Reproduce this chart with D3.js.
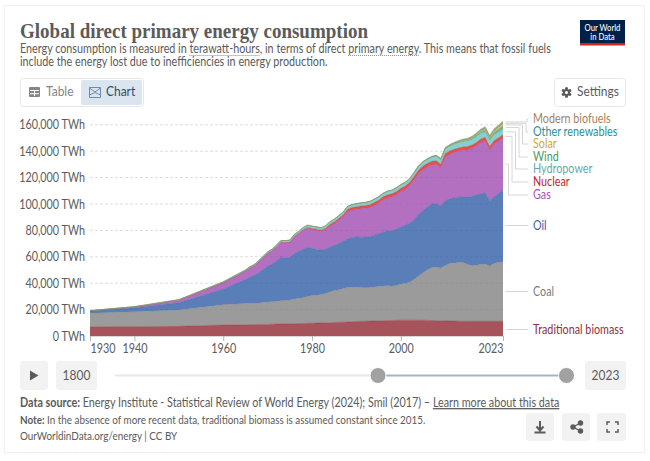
<!DOCTYPE html>
<html><head><meta charset="utf-8">
<script src="https://cdn.jsdelivr.net/npm/d3@7"></script>
<style>
html,body{margin:0;padding:0;background:#fff;width:650px;height:461px;overflow:hidden}
svg{display:block;font-family:Lato,sans-serif}
</style></head><body>
<svg id="c" width="650" height="461"></svg>
<script>
const years=[1930,1940,1950,1960,1965,1966,1967,1968,1969,1970,1971,1972,1973,1974,1975,1976,1977,1978,1979,1980,1981,1982,1983,1984,1985,1986,1987,1988,1989,1990,1991,1992,1993,1994,1995,1996,1997,1998,1999,2000,2001,2002,2003,2004,2005,2006,2007,2008,2009,2010,2011,2012,2013,2014,2015,2016,2017,2018,2019,2020,2021,2022,2023];
const traditionalBiomass=[7000,7100,7300,8300,8500,8550,8600,8700,8750,8800,8900,9000,9050,9100,9200,9300,9400,9500,9600,9700,9800,9900,10000,10100,10200,10350,10500,10650,10800,11000,11100,11200,11300,11400,11500,11600,11700,11800,11900,12000,12000,12000,12000,11950,11900,11800,11700,11600,11500,11450,11400,11300,11200,11150,11111,11111,11111,11111,11111,11111,11111,11111,11111];
const coal=[10200,11300,12400,15400,16140,16400,16100,16300,16700,17000,17000,17200,17700,17700,18000,18700,19200,19500,20400,20900,21100,21600,22200,23200,24200,24700,25500,26000,26200,26000,25600,25400,25500,25700,26000,26300,26400,26000,26300,27400,27700,28900,31000,33550,36100,38400,40100,40400,40000,42050,43600,43900,44600,44550,43089,42189,42489,43189,43489,41889,43889,44689,45189];
const oil=[1700,3000,5400,11800,18100,19600,21100,23000,24900,27000,28400,30500,33000,32500,32300,34300,35400,36500,37200,35800,34600,33600,33300,34000,33900,35000,35600,36900,37500,38000,37900,38400,38300,39100,39800,40700,41700,41900,42700,43000,44400,44600,45000,46500,47000,47500,48200,48200,47000,49000,48800,49500,49400,49800,51200,52400,53200,53400,53700,49300,50500,52200,54300];
const gas=[200,600,2050,4800,6300,6800,7300,8000,8800,9600,10200,10700,11100,11300,11300,12700,13300,14400,14400,14300,14600,14000,14800,15800,16600,17400,18400,20600,20900,20900,21800,21700,22100,22600,23200,24400,24800,25600,26100,26900,26900,28300,30500,31000,31000,30300,29600,29800,29000,33000,33700,34300,34800,35200,35600,36300,37200,38800,39400,38600,39700,39500,39200];
const nuclear=[0,0,0,0,25,34,40,52,62,79,110,150,200,250,350,400,500,600,650,710,850,950,1100,1300,1500,1600,1730,1890,1950,2000,2100,2130,2200,2260,2330,2400,2390,2430,2520,2580,2650,2660,2600,2740,2770,2800,2750,2730,2690,2770,2650,2470,2480,2530,2570,2610,2640,2700,2790,2690,2800,2680,2740];
const hydropower=[130,190,330,690,920,980,1000,1040,1100,1150,1200,1250,1290,1400,1430,1440,1470,1570,1660,1720,1760,1800,1880,1950,1980,2000,2040,2100,2100,2170,2230,2240,2370,2400,2510,2530,2590,2610,2640,2660,2600,2630,2630,2810,2920,3030,3090,3250,3240,3430,3500,3660,3780,3880,3880,4000,4060,4170,4220,4350,4270,4310,4240];
const wind=[0,0,0,0,0,0,0,0,0,0,0,0,0,0,0,0,0,0,0,0,0,0,0,0,1,1,1,2,3,4,4,5,6,7,8,9,12,16,21,31,38,52,63,85,104,133,170,221,277,346,437,534,646,712,831,962,1141,1270,1420,1590,1850,2110,2300];
const solar=[0,0,0,0,0,0,0,0,0,0,0,0,0,0,0,0,0,0,0,0,0,0,0,0,0,0,0,0,0,0,0,1,1,1,1,1,1,1,1,1,2,2,3,3,4,6,8,12,20,32,63,100,139,198,256,329,446,577,703,846,1040,1320,1640];
const otherRenewables=[0,0,10,20,30,30,35,35,40,40,42,44,46,48,50,52,54,56,58,60,70,80,90,100,120,128,136,144,152,160,165,170,176,182,190,196,202,208,214,220,230,240,250,265,280,298,316,334,352,370,390,412,434,456,480,515,550,585,620,650,700,745,790];
const modernBiofuels=[0,0,0,0,0,0,0,0,0,0,0,0,0,0,1,2,5,10,20,40,45,50,55,65,70,72,75,78,82,90,92,95,98,102,110,110,110,110,110,110,120,140,165,185,220,280,370,480,520,600,610,620,680,760,830,860,900,1020,1140,1040,1130,1200,1250];
const seriesNames=["Traditional biomass","Coal","Oil","Gas","Nuclear","Hydropower","Wind","Solar","Other renewables","Modern biofuels"];
const seriesValues=[traditionalBiomass,coal,oil,gas,nuclear,hydropower,wind,solar,otherRenewables,modernBiofuels];
const fillColors=["#912833","#818281","#315fa6","#a04bb0","#d32929","#6ac3c3","#4f9f6a","#d8b32e","#2f9c9c","#a5835c"];
const labelColors=["#8f2f3f","#7c7c7c","#3f62a8","#a652ba","#c8242e","#65a9b0","#4c9a63","#cfa92c","#2b8f96","#a5835c"];
const legendOrder=["Modern biofuels","Other renewables","Solar","Wind","Hydropower","Nuclear","Gas","Oil","Coal","Traditional biomass"];
const yTicks=[0,20000,40000,60000,80000,100000,120000,140000,160000];
const xTicks=[1930,1940,1960,1980,2000,2023];

// layout constants (not data)
const legendY=[119,132,144,157,169,182,195,226,292,330];
const legendElbow=[527,526,522.5,519,515.5,512,508.5,null,null,null];
const squeeze=0.855;

const svg=d3.select("#c");
const T="#5b5b5b";
const x=d3.scaleLinear().domain([1930,2023]).range([90,503]);
const y=d3.scaleLinear().domain([0,160000]).range([336,124.8]);

// frame
svg.append("rect").attr("x",4.5).attr("y",5.5).attr("width",640).attr("height",447).attr("fill","#fff").attr("stroke","#f0f0f0");

// header
svg.append("text").attr("class","noSq").attr("x",20).attr("y",38).attr("font-family","'Liberation Serif',serif").attr("font-weight",700).attr("font-size",22).attr("fill",T).attr("textLength",348).attr("lengthAdjust","spacingAndGlyphs").text("Global direct primary energy consumption");
const sub1=svg.append("text").attr("x",20).attr("y",53).attr("font-size",12.6).attr("fill",T)
  .text("Energy consumption is measured in terawatt-hours, in terms of direct primary energy. This means that fossil fuels");
svg.append("text").attr("x",20).attr("y",66).attr("font-size",12.6).attr("fill",T).text("include the energy lost due to inefficiencies in energy production.");
// dotted underlines measured from the text itself
["terawatt-hours","primary energy"].forEach(term=>{
  const n=sub1.node(), s=n.textContent.indexOf(term);
  const x0=20+n.getSubStringLength(0,s)*squeeze, w=n.getSubStringLength(s,term.length)*squeeze;
  svg.append("line").attr("x1",x0).attr("x2",x0+w).attr("y1",55.5).attr("y2",55.5).attr("stroke","#8a8a8a").attr("stroke-dasharray","1,1");
});

// logo
svg.append("rect").attr("x",580).attr("y",20).attr("width",45).attr("height",25).attr("fill","#002147");
svg.append("rect").attr("x",580).attr("y",43).attr("width",45).attr("height",2.5).attr("fill","#ce261e");
svg.append("text").attr("x",602.5).attr("y",31).attr("text-anchor","middle").attr("font-size",9).attr("font-weight",500).attr("fill","#fff").text("Our World");
svg.append("text").attr("x",602.5).attr("y",40.5).attr("text-anchor","middle").attr("font-size",9).attr("font-weight",500).attr("fill","#fff").text("in Data");

// tabs
svg.append("rect").attr("x",20.5).attr("y",78.5).attr("width",123).attr("height",28).attr("rx",3).attr("fill","#fff").attr("stroke","#e7e7e7");
svg.append("rect").attr("x",81).attr("y",80).attr("width",61).attr("height",25).attr("rx",2).attr("fill","#dbe5f0");
const ti=svg.append("g").attr("transform","translate(29,87)");
ti.append("rect").attr("width",11).attr("height",10).attr("rx",1).attr("fill","#858585");
ti.append("path").attr("d","M1 3.5H10M1 6.7H10M5.5 3V9").attr("stroke","#fff").attr("stroke-width",1);
svg.append("text").attr("x",46).attr("y",96.5).attr("font-size",14).attr("fill","#858585").text("Table");
svg.append("path").attr("d","M89.5 87.5H100.5V97.5H89.5ZM89.5 88L95 92L100.5 88M89.5 95L95 92.5L100.5 95").attr("fill","none").attr("stroke","#6d8bab").attr("stroke-width",1);
svg.append("text").attr("x",106).attr("y",96.5).attr("font-size",14).attr("fill","#2d4a6b").text("Chart");
svg.append("rect").attr("x",554.5).attr("y",78.5).attr("width",71).attr("height",28).attr("rx",3).attr("fill","#fff").attr("stroke","#e7e7e7");
const gear=svg.append("g").attr("transform","translate(566.5,92.5)");
gear.selectAll("line").data(d3.range(6)).join("line").attr("x1",0).attr("y1",-5).attr("x2",0).attr("y2",5).attr("stroke",T).attr("stroke-width",2.4).attr("transform",d=>`rotate(${d*60})`);
gear.append("circle").attr("r",3.6).attr("fill",T);
gear.append("circle").attr("r",1.5).attr("fill","#fff");
svg.append("text").attr("x",577).attr("y",96.5).attr("font-size",14).attr("fill",T).text("Settings");

// grid
const grid=svg.append("g");
grid.selectAll("line").data(yTicks.filter(d=>d>0)).join("line").attr("x1",x.range()[0]).attr("x2",x.range()[1]).attr("y1",d=>y(d)).attr("y2",d=>y(d)).attr("stroke","#dddddd").attr("stroke-dasharray","3,2");

// stacked areas
const rows=years.map((yr,i)=>{const r={year:yr};seriesNames.forEach((n,k)=>r[n]=seriesValues[k][i]);return r;});
const stacked=d3.stack().keys(seriesNames)(rows);
const area=d3.area().x(d=>x(d.data.year)).y0(d=>y(d[0])).y1(d=>y(d[1]));
const line=d3.line().x(d=>x(d.data.year)).y(d=>y(d[1]));
svg.append("g").selectAll("path").data(stacked).join("path").attr("d",area).attr("fill",(d,i)=>fillColors[i]).attr("fill-opacity",0.8);
svg.append("g").selectAll("path").data(stacked).join("path").attr("d",line).attr("fill","none").attr("stroke",(d,i)=>fillColors[i]).attr("stroke-width",0.5).attr("stroke-opacity",0.7);

// axes
const yAxis=svg.append("g").attr("transform",`translate(${x.range()[0]-5},0)`).call(d3.axisLeft(y).tickValues(yTicks).tickSize(0).tickPadding(0).tickFormat(d=>d3.format(",")(d)+" TWh"));
yAxis.select(".domain").remove();
yAxis.selectAll("text").attr("font-family","Lato,sans-serif").attr("font-size",12.6).attr("fill",T);
const xAxis=svg.append("g").attr("transform",`translate(0,${y(0)})`).call(d3.axisBottom(x).tickValues(xTicks).tickSize(5).tickPadding(3).tickFormat(d3.format("d")));
xAxis.select(".domain").attr("stroke","#d8d8d8").attr("d",`M${x.range()[0]},0.5H${x.range()[1]}`);
xAxis.selectAll("line").attr("stroke","#b5b5b5");
xAxis.selectAll("text").attr("font-family","Lato,sans-serif").attr("font-size",12.6).attr("fill",T)
  .attr("text-anchor",d=>d===xTicks[0]?"start":d===xTicks[xTicks.length-1]?"end":"middle");

// legend with connectors
const last=years.length-1;
legendOrder.forEach((name,i)=>{
  const k=seriesNames.indexOf(name);
  const pt=stacked[k][last];
  const sy=y((pt[0]+pt[1])/2), ly=legendY[i], el=legendElbow[i];
  const d=el===null?`M505.5,${ly-0.5}H528`:`M505.5,${sy}H${el}V${ly}H528`;
  svg.append("path").attr("d",d).attr("fill","none").attr("stroke","#d6d6d6").attr("stroke-width",1);
  svg.append("text").attr("x",533).attr("y",ly+4).attr("font-size",12.6).attr("fill",labelColors[k]).text(name);
});

// timeline
const btn=(bx,by,w,h)=>svg.append("rect").attr("x",bx).attr("y",by).attr("width",w).attr("height",h).attr("rx",3).attr("fill","#f2f2f2");
btn(20,361,28,29);
svg.append("path").attr("d","M30 370.5L38.5 375.5L30 380.5Z").attr("fill",T);
btn(56,361,41,29);
svg.append("text").attr("x",76.5).attr("y",380).attr("text-anchor","middle").attr("font-size",14).attr("fill",T).text("1800");
btn(585,361,41,29);
svg.append("text").attr("x",605.5).attr("y",380).attr("text-anchor","middle").attr("font-size",14).attr("fill",T).text("2023");
svg.append("line").attr("x1",115).attr("x2",378).attr("y1",375.5).attr("y2",375.5).attr("stroke","#e7e7e7").attr("stroke-width",2);
svg.append("line").attr("x1",378).attr("x2",567).attr("y1",375.5).attr("y2",375.5).attr("stroke","#a3b4c9").attr("stroke-width",2);
[378,566.5].forEach(cx=>svg.append("circle").attr("cx",cx).attr("cy",375.5).attr("r",8).attr("fill","#a1a1a1").attr("stroke","#fff"));

// footer
const src=svg.append("text").attr("x",20).attr("y",407).attr("font-size",12.6).attr("fill",T);
src.append("tspan").attr("font-weight",700).text("Data source:");
src.append("tspan").text(" Energy Institute - Statistical Review of World Energy (2024); Smil (2017) – ");
src.append("tspan").attr("text-decoration","underline").text("Learn more about this data");
const note=svg.append("text").attr("x",20).attr("y",424.5).attr("font-size",11.55).attr("fill",T);
note.append("tspan").attr("font-weight",700).text("Note:");
note.append("tspan").text(" In the absence of more recent data, traditional biomass is assumed constant since 2015.");
svg.append("text").attr("x",20).attr("y",440).attr("font-size",11.55).attr("fill",T).text("OurWorldinData.org/energy | CC BY");

btn(526,413,28,28);btn(562,413,28,28);btn(597,413,29,28);
svg.append("path").attr("d","M540 421V430M536.5 426.5L540 430.5L543.5 426.5M534.5 432.5H545.5").attr("fill","none").attr("stroke",T).attr("stroke-width",2);
const sh=svg.append("g").attr("stroke",T).attr("stroke-width",1.4);
sh.append("path").attr("d","M580.5 423L573 427L580.5 431").attr("fill","none");
[[580.5,423],[573,427],[580.5,431]].forEach(p=>sh.append("circle").attr("cx",p[0]).attr("cy",p[1]).attr("r",2).attr("fill",T));
svg.append("path").attr("d","M607 425V422H610M615 422H618V425M618 429V432H615M610 432H607V429").attr("fill","none").attr("stroke",T).attr("stroke-width",1.5);

// the reference's text is horizontally condensed: apply to every text around its anchor
svg.selectAll("text").filter(function(){return !this.classList.contains("noSq");}).each(function(){
  const tx=+this.getAttribute("x")||0;
  this.setAttribute("transform",`translate(${tx*(1-squeeze)},0) scale(${squeeze},1)`);
});
</script></body></html>
